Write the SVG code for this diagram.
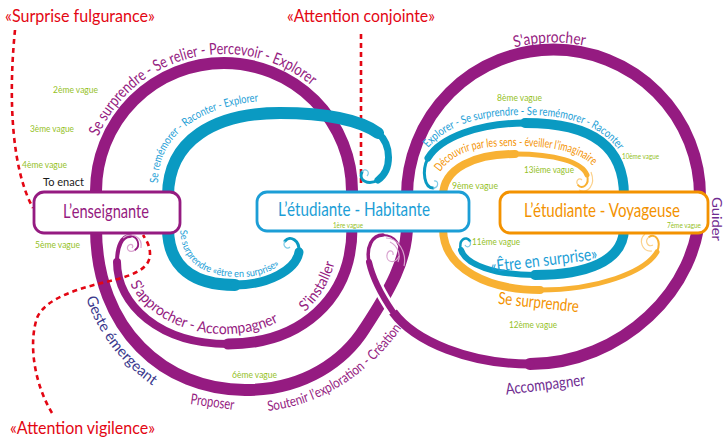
<svg xmlns="http://www.w3.org/2000/svg" width="724" height="442" viewBox="0 0 724 442">
<style>
.p{fill:none;stroke:#951B81;stroke-linecap:round}
.b{fill:none;stroke:#0A9AC2;stroke-linecap:round}
.o{fill:none;stroke:#F8B133;stroke-linecap:round}
.w{fill:none;stroke:#fff;stroke-linecap:butt}
.red{fill:none;stroke:#E30613;stroke-width:2.6;stroke-dasharray:5 4}
.lp{fill:none;stroke:#D9A3CF;stroke-width:1.2}
.lb{fill:none;stroke:#7FCBE6;stroke-width:1.2}
.lo{fill:none;stroke:#FBD08A;stroke-width:1.2}
text{font-family:"Lato","Liberation Sans",sans-serif}
.g{fill:#95C11F;font-size:8.5px}
.gs{fill:#95C11F;font-size:7px}
.rt{fill:#E30613;font-size:17px}
.box{fill:#fff;stroke-width:2.8}
.pt{fill:#951B81}
.bt{fill:#1C9ED6}
.ot{fill:#F39200}
</style>
<defs>
<path id="tp1" d="M87,191 A137,137 0 0 1 361,191"/>
<path id="tp2" d="M158,183 C158,135 200,106 262,101"/>
<path id="tp3" d="M130,284 C148,318 188,335 228,334 C250,333 268,328 282,320"/>
<path id="tp4" d="M305,312 C320,298 332,280 337,252"/>
<path id="tp5" d="M86,298 Q105,355 162,392"/>
<path id="tp6" d="M190,404 Q212,407 234,410"/>
<path id="tp7" d="M268,411 C310,406 360,385 400,330"/>
<path id="tp8" d="M428,148 C450,122 485,115 525,115 C575,115 605,128 622,155"/>
<path id="tp9" d="M440,172 C455,150 480,146 515,146 C555,146 585,152 598,172"/>
<path id="tp10" d="M400,196 A153.5,153.5 0 0 1 707,196"/>
<path id="tp11" d="M180,230 C182,266 208,277 240,277 C266,277 286,266 292,246"/>
</defs>

<g id="connectors">
  <path class="red" d="M15,30 C8,100 12,170 33,208"/>
  <path class="red" d="M361,34 L361,186"/>
  <path class="p" stroke-width="12" d="M96,196 L96,191 A128,128 0 0 1 352,191 L352,196"/>
  <path class="p" stroke-width="12" d="M96,228 C96,330 165,390 245,390 C305,390 345,360 365,328 C390,290 407,260 407,225 L407,196 A146.5,146.5 0 0 1 700,196 L700,205 C700,290 620,364 530,364"/>
  <path class="p" stroke-width="9" d="M530,364 C470,364 415,342 393,312"/>
  <path class="w" stroke-width="11" d="M393,312 C382,296 373,280 369,262"/>
  <path class="p" stroke-width="6" d="M393,312 C382,296 373,280 369,262"/>
  <path class="p" stroke-width="3.5" d="M369,262 C366,247 372,235 383,235"/>
  <path class="p" stroke-width="1.8" d="M383,235 C395,235 402,245 399,256"/>
  <path class="lp" d="M399,256 C395,265 386,262 387,255 C388,249 394,250 393,255"/>
  <path class="lp" d="M386,238 C398,238 407,252 404,266"/>
  <path class="lp" d="M390,242 C398,246 401,255 398,262"/>
  <path class="p" stroke-width="11" d="M352,228 C352,300 300,344 228,344"/>
  <path class="p" stroke-width="8" d="M228,344 C160,344 117,305 117,262"/>
  <path class="p" stroke-width="4" d="M117,262 C117,246 122,236 130,236"/>
  <path class="p" stroke-width="1.8" d="M130,236 C138,236 141,246 135,250"/>
  <path class="lp" d="M135,250 C129,254 125,248 129,245 C132,243 134,246 132,248"/>
  <path class="lp" d="M123,238 C131,231 143,237 141,248"/>
  <path class="b" stroke-width="12" d="M168,196 C168,140 215,113 280,113 C325,113 360,120 378,133"/>
  <path class="b" stroke-width="7" d="M378,133 C392,145 392,170 378,180"/>
  <path class="b" stroke-width="3" d="M378,180 C368,186 358,180 362,172"/>
  <path class="lb" d="M362,172 C365,167 371,172 367,176"/>
  <path class="b" stroke-width="12" d="M168,228 C168,268 195,285 235,285"/>
  <path class="b" stroke-width="9" d="M235,285 C268,285 296,270 299,252"/>
  <path class="b" stroke-width="3" d="M299,252 C300,240 290,235 285,241"/>
  <path class="lb" d="M285,241 C282,246 287,250 290,247"/>
  <path class="b" stroke-width="10" d="M624,196 C624,148 595,123 525,123"/>
  <path class="b" stroke-width="7" d="M525,123 C478,123 440,138 428,158"/>
  <path class="b" stroke-width="3" d="M428,158 C421,172 425,188 433,188"/>
  <path class="lb" d="M433,188 C439,188 439,180 434,181"/>
  <path class="b" stroke-width="10" d="M624,228 C624,262 585,275 535,275"/>
  <path class="b" stroke-width="6" d="M535,275 C495,275 466,265 461,250"/>
  <path class="b" stroke-width="2.5" d="M461,250 C458,240 466,235 470,241"/>
  <path class="lb" d="M470,241 C472,246 467,249 465,245"/>
  <path class="o" stroke-width="8" d="M443,196 C443,168 475,154 515,154"/>
  <path class="o" stroke-width="5" d="M515,154 C555,154 582,162 587,175"/>
  <path class="o" stroke-width="2" d="M587,175 C590,185 582,190 578,185"/>
  <path class="lo" d="M578,185 C575,181 579,177 582,180"/>
  <path class="lo" d="M591,172 C596,185 588,194 579,190"/>
  <path class="o" stroke-width="8" d="M443,228 C443,270 490,290 540,290"/>
  <path class="o" stroke-width="5" d="M540,290 C598,290 645,272 657,252"/>
  <path class="o" stroke-width="2" d="M657,252 C662,240 655,233 649,237"/>
  <path class="lo" d="M649,237 C644,241 648,248 653,245"/>
  <path class="lo" d="M645,234 C638,240 642,252 652,251"/>
  <path class="red" d="M52,413 C35,385 28,345 37,318 C45,298 80,288 110,281 C135,275 150,268 150,254 C150,245 146,240 143,235"/>
</g>

<g id="enseignante">
  <rect class="box" x="34" y="192" width="146" height="41" rx="10" stroke="#951B81"/>
  <text x="106" y="218" font-size="20" text-anchor="middle" textLength="86" lengthAdjust="spacingAndGlyphs" class="pt">L’enseignante</text>
</g>
<g id="habitante">
  <rect class="box" x="257" y="192" width="212" height="39" rx="10" stroke="#1C9ED6"/>
  <text x="354" y="216" font-size="19" text-anchor="middle" textLength="152" lengthAdjust="spacingAndGlyphs" class="bt">L’étudiante - Habitante</text>
</g>
<g id="voyageuse">
  <rect class="box" x="500" y="192" width="208" height="41" rx="10" stroke="#F39200"/>
  <text x="602" y="217" font-size="19" text-anchor="middle" textLength="156" lengthAdjust="spacingAndGlyphs" class="ot">L’étudiante - Voyageuse</text>
</g>

<g id="labels">
  <text class="rt" x="5" y="22" textLength="150" lengthAdjust="spacingAndGlyphs">«Surprise fulgurance»</text>
  <text class="rt" x="287" y="22" textLength="148" lengthAdjust="spacingAndGlyphs">«Attention conjointe»</text>
  <text class="rt" x="10" y="434" textLength="145" lengthAdjust="spacingAndGlyphs">«Attention vigilence»</text>
  <text x="43" y="186" font-size="11" fill="#1a1a1a" textLength="41" lengthAdjust="spacingAndGlyphs">To enact</text>

  <text font-size="16" class="pt"><textPath href="#tp1" startOffset="56" textLength="254" lengthAdjust="spacingAndGlyphs">Se surprendre - Se relier - Percevoir - Explorer</textPath></text>
  <text font-size="11.5" class="bt"><textPath href="#tp2" textLength="143" lengthAdjust="spacingAndGlyphs">Se remémorer - Raconter - Explorer</textPath></text>
  <text font-size="15" class="pt"><textPath href="#tp3" textLength="168" lengthAdjust="spacingAndGlyphs">S’approcher - Accompagner</textPath></text>
  <text font-size="15" class="pt"><textPath href="#tp4" textLength="58" lengthAdjust="spacingAndGlyphs">S’installer</textPath></text>
  <text font-size="15" fill="#3C3A8E"><textPath href="#tp5" textLength="112" lengthAdjust="spacingAndGlyphs">Geste émergeant</textPath></text>
  <text font-size="15" class="pt"><textPath href="#tp6" textLength="44" lengthAdjust="spacingAndGlyphs">Proposer</textPath></text>
  <text font-size="14" class="pt"><textPath href="#tp7" textLength="162" lengthAdjust="spacingAndGlyphs">Soutenir l’exploration - Création</textPath></text>
  <text font-size="11.5" class="bt"><textPath href="#tp8" textLength="210" lengthAdjust="spacingAndGlyphs">Explorer - Se surprendre - Se remémorer - Raconter</textPath></text>
  <text font-size="12" class="ot"><textPath href="#tp9" textLength="165" lengthAdjust="spacingAndGlyphs">Découvrir par les sens - éveiller l’imaginaire</textPath></text>
  <text font-size="16" class="pt" text-anchor="middle"><textPath href="#tp10" startOffset="237" textLength="71" lengthAdjust="spacingAndGlyphs">S'approcher</textPath></text>
  <text font-size="10" class="bt"><textPath href="#tp11" textLength="128" lengthAdjust="spacingAndGlyphs">Se surprendre «être en surprise»</textPath></text>

  <text x="490" y="266" font-size="17" class="bt" textLength="107" lengthAdjust="spacingAndGlyphs" transform="rotate(-7 543 258)">«Être en surprise»</text>
  <text x="498" y="308" font-size="17" class="ot" textLength="81" lengthAdjust="spacingAndGlyphs" transform="rotate(6 538 303)">Se surprendre</text>
  <text x="505" y="390" font-size="16" fill="#6F2C91" textLength="80" lengthAdjust="spacingAndGlyphs" transform="rotate(-7 545 383)">Accompagner</text>
  <text x="0" y="0" font-size="13" fill="#6F2C91" textLength="44" lengthAdjust="spacingAndGlyphs" transform="translate(712,197) rotate(90)">Guider</text>

  <text class="g" x="53" y="93" textLength="45" lengthAdjust="spacingAndGlyphs">2ème vague</text>
  <text class="g" x="30" y="132" textLength="44" lengthAdjust="spacingAndGlyphs">3ème vague</text>
  <text class="g" x="22" y="168" textLength="45" lengthAdjust="spacingAndGlyphs">4ème vague</text>
  <text class="g" x="35" y="248" textLength="45" lengthAdjust="spacingAndGlyphs">5ème vague</text>
  <text class="g" x="232" y="378" textLength="45" lengthAdjust="spacingAndGlyphs">6ème vague</text>
  <text class="gs" x="333" y="228" textLength="30" lengthAdjust="spacingAndGlyphs">1ère vague</text>
  <text class="gs" x="667" y="228" textLength="34" lengthAdjust="spacingAndGlyphs">7ème vague</text>
  <text class="g" x="497" y="101" textLength="45" lengthAdjust="spacingAndGlyphs">8ème vague</text>
  <text class="g" x="452" y="189" textLength="46" lengthAdjust="spacingAndGlyphs">9ème vague</text>
  <text class="gs" x="622" y="159" textLength="37" lengthAdjust="spacingAndGlyphs">10ème vague</text>
  <text class="g" x="524" y="173" textLength="50" lengthAdjust="spacingAndGlyphs">13ième vague</text>
  <text class="g" x="472" y="245" textLength="48" lengthAdjust="spacingAndGlyphs">11ème vague</text>
  <text class="g" x="509" y="328" textLength="48" lengthAdjust="spacingAndGlyphs">12ème vague</text>
</g>
</svg>
